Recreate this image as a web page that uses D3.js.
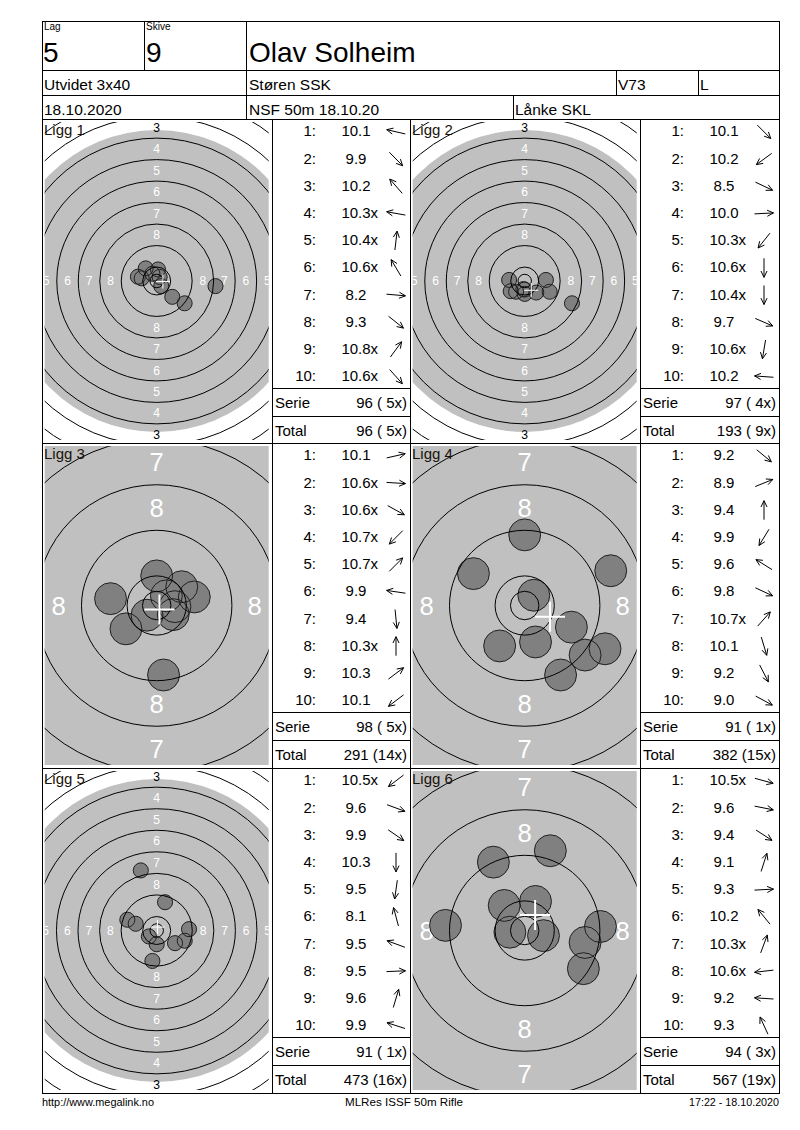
<!DOCTYPE html>
<html>
<head>
<meta charset="utf-8">
<script src="https://cdn.jsdelivr.net/npm/d3@7"></script>
<style>
body { margin: 0; background: #fff; }
svg { display: block; font-family: "Liberation Sans", Arial, sans-serif; }
</style>
</head>
<body>
<svg id="card" width="800" height="1130"></svg>
<script>
// header texts
var lagNr = "5", skiveNr = "9", shooter = "Olav Solheim";
var klasse = "Utvidet 3x40", klubb = "Støren SSK", alder = "V73", hand = "L";
var dato = "18.10.2020", stevne = "NSF 50m 18.10.20", laget = "Lånke SKL";
var footerTexts = ["http://www.megalink.no", "MLRes ISSF 50m Rifle", "17:22 - 18.10.2020"];

var liggNames = ["Ligg 1", "Ligg 2", "Ligg 3", "Ligg 4", "Ligg 5", "Ligg 6"];
var liggZoom = [false, false, true, true, false, true];

// shot values as printed
var ligg1Scores = ["10.1", "9.9", "10.2", "10.3x", "10.4x", "10.6x", "8.2", "9.3", "10.8x", "10.6x"];
var ligg2Scores = ["10.1", "10.2", "8.5", "10.0", "10.3x", "10.6x", "10.4x", "9.7", "10.6x", "10.2"];
var ligg3Scores = ["10.1", "10.6x", "10.6x", "10.7x", "10.7x", "9.9", "9.4", "10.3x", "10.3", "10.1"];
var ligg4Scores = ["9.2", "8.9", "9.4", "9.9", "9.6", "9.8", "10.7x", "10.1", "9.2", "9.0"];
var ligg5Scores = ["10.5x", "9.6", "9.9", "10.3", "9.5", "8.1", "9.5", "9.5", "9.6", "9.9"];
var ligg6Scores = ["10.5x", "9.6", "9.4", "9.1", "9.3", "10.2", "10.3x", "10.6x", "9.2", "9.3"];

// shot centres in mm from target centre (x right, y down)
var ligg1Shots = [[-7.0, -1.6], [5.8, 5.9], [-4.1, -4.7], [-5.6, -1.0], [0.5, -4.3], [-1.6, -2.7], [21.9, 1.9], [10.4, 8.3], [1.1, -1.5], [1.7, 1.9]];
var ligg2Shots = [[4.3, 4.3], [-5.2, 3.8], [17.6, 8.3], [7.9, -0.4], [-3.2, 4.0], [0.0, 3.2], [0.0, 4.8], [9.3, 4.0], [-0.5, 3.0], [-5.8, -0.4]];
var ligg3Shots = [[6.6, -1.5], [3.2, 0.2], [2.9, 1.6], [-1.7, 1.7], [1.7, -1.7], [-8.1, -1.2], [1.2, 12.2], [0.0, -5.2], [4.4, -3.3], [-5.4, 4.1]];
var ligg4Shots = [[10.6, 8.7], [15.1, -6.1], [0.0, -12.4], [-4.4, 7.1], [-9.0, -5.6], [8.2, 3.8], [1.6, -1.8], [1.9, 6.4], [6.3, 12.2], [14.1, 7.6]];
var ligg5Shots = [[-2.9, 2.2], [10.4, 3.8], [6.8, 4.7], [0.0, 5.1], [-1.6, 11.3], [-5.9, -22.3], [-10.9, -4.0], [12.0, -0.5], [3.1, -10.5], [-7.8, -2.5]];
var ligg6Shots = [[3.3, 0.9], [10.6, 2.1], [10.3, 6.7], [4.5, -14.0], [13.3, -0.7], [-3.6, -4.4], [1.9, -5.1], [-2.6, 0.3], [-13.9, -0.9], [-5.5, -12.0]];

var allScores = [ligg1Scores, ligg2Scores, ligg3Scores, ligg4Scores, ligg5Scores, ligg6Scores];
var allShots = [ligg1Shots, ligg2Shots, ligg3Shots, ligg4Shots, ligg5Shots, ligg6Shots];

// ISSF 50m rifle target, radii in mm (ring 1 .. ring 10), inner ten, black
var ringRadius = [77.2, 69.2, 61.2, 53.2, 45.2, 37.2, 29.2, 21.2, 13.2, 5.2];
var innerTen = 2.5, blackRadius = 56.2, shotRadius = 2.8;

var svg = d3.select("#card");
var colX = [42, 272, 410, 640, 779];
var rowY = [119, 443, 768, 1093];

svg.append("rect").attr("width", 800).attr("height", 1130).attr("fill", "#fff");

var targets = svg.append("g");
var lines = svg.append("g").attr("stroke", "#000").attr("stroke-width", 1)
    .attr("shape-rendering", "crispEdges");
var texts = svg.append("g").attr("fill", "#000");

function hline(x1, x2, y) {
    lines.append("line").attr("x1", x1).attr("x2", x2).attr("y1", y + 0.5).attr("y2", y + 0.5);
}
function vline(x, y1, y2) {
    lines.append("line").attr("x1", x + 0.5).attr("x2", x + 0.5).attr("y1", y1).attr("y2", y2);
}
function label(x, y, str, size, anchor) {
    return texts.append("text").attr("x", x).attr("y", y).attr("font-size", size)
        .attr("text-anchor", anchor || "start").text(str);
}

// ---- header ----
hline(42, 780, 21); hline(42, 780, 70); hline(42, 780, 95); hline(42, 780, 119);
vline(42, 21, 119); vline(779, 21, 120);
vline(144, 21, 70); vline(246, 21, 119);
vline(616, 70, 95); vline(698, 70, 95); vline(513, 95, 119);

label(44, 30, "Lag", 10);
label(146, 30, "Skive", 10);
label(43, 62, lagNr, 28);
label(146, 62, skiveNr, 28);
label(249, 62, shooter, 28);
label(44, 90, klasse, 15.5);
label(249, 90, klubb, 15.5);
label(618, 90, alder, 15.5);
label(700, 90, hand, 15.5);
label(44, 115, dato, 15.5);
label(249, 115, stevne, 15.5);
label(515, 115, laget, 15.5);

// ---- grid ----
colX.forEach(function (x) { vline(x, 119, 1094); });
rowY.forEach(function (y) { hline(42, 780, y); });

// ---- targets ----
function drawTarget(i) {
    var col = i % 2, row = Math.floor(i / 2);
    var left = colX[col * 2], right = colX[col * 2 + 1];
    var top = rowY[row], bottom = rowY[row + 1];
    var x0 = left + 2.7, x1 = right - 3.3, y0 = top + 3, y1 = bottom - 3;
    var halfH = liggZoom[i] ? 28.0 : 59.2;
    var k = (y1 - y0) / (2 * halfH);
    var halfW = (x1 - x0) / 2 / k;
    var x = d3.scaleLinear().domain([-halfW, halfW]).range([x0, x1]);
    var y = d3.scaleLinear().domain([-halfH, halfH]).range([y0, y1]);
    var shots = allShots[i];

    var clipId = "clip" + i;
    svg.append("clipPath").attr("id", clipId).append("rect")
        .attr("x", x0).attr("y", y0).attr("width", x1 - x0).attr("height", y1 - y0);
    var g = targets.append("g").attr("clip-path", "url(#" + clipId + ")");

    g.append("circle").attr("cx", x(0)).attr("cy", y(0)).attr("r", blackRadius * k)
        .attr("fill", "#c0c0c0");

    // ring numbers 1..8 in the middle of each band, only those inside the view
    var labels = [];
    d3.range(0, 8).forEach(function (n) {
        var m = (ringRadius[n] + ringRadius[n + 1]) / 2;
        [[0, -m], [0, m], [-m, 0], [m, 0]].forEach(function (p) {
            var px = x(p[0]), py = y(p[1]);
            if (px > x0 && px < x1 && py > y0 && py < y1) {
                labels.push({ n: n + 1, x: p[0], y: p[1], white: m < blackRadius });
            }
        });
    });
    g.append("g").selectAll("text").data(labels).enter().append("text")
        .attr("x", function (d) { return x(d.x); })
        .attr("y", function (d) { return y(d.y); })
        .attr("dy", "0.36em")
        .attr("text-anchor", "middle")
        .attr("font-size", 4.5 * k)
        .attr("fill", function (d) { return d.white ? "#fff" : "#000"; })
        .text(function (d) { return d.n; });

    // shot holes: fills first, outlines on top
    g.append("g").selectAll("circle").data(shots).enter().append("circle")
        .attr("cx", function (d) { return x(d[0]); })
        .attr("cy", function (d) { return y(d[1]); })
        .attr("r", shotRadius * k)
        .attr("fill", "#808080");
    g.append("g").selectAll("circle").data(shots).enter().append("circle")
        .attr("cx", function (d) { return x(d[0]); })
        .attr("cy", function (d) { return y(d[1]); })
        .attr("r", shotRadius * k)
        .attr("fill", "none").attr("stroke", "#202020").attr("stroke-width", 1);

    g.append("g").selectAll("circle").data(ringRadius.concat([innerTen])).enter().append("circle")
        .attr("cx", x(0)).attr("cy", y(0))
        .attr("r", function (d) { return d * k; })
        .attr("fill", "none").attr("stroke", "#000").attr("stroke-width", 1);

    // mean point of impact
    var mx = d3.mean(shots, function (d) { return d[0]; });
    var my = d3.mean(shots, function (d) { return d[1]; });
    var c = 2.64, sw = Math.max(1, 0.35 * k);
    g.append("line").attr("x1", x(mx - c)).attr("x2", x(mx + c)).attr("y1", y(my)).attr("y2", y(my))
        .attr("stroke", "#fff").attr("stroke-width", sw);
    g.append("line").attr("x1", x(mx)).attr("x2", x(mx)).attr("y1", y(my - c)).attr("y2", y(my + c))
        .attr("stroke", "#fff").attr("stroke-width", sw);

    g.append("text").attr("x", left + 2).attr("y", top + 16).attr("font-size", 15)
        .attr("fill", "#1a1208").text(liggNames[i]);
}

// ---- tables ----
var runningTotal = 0, runningX = 0;
function drawTable(i) {
    var col = i % 2, row = Math.floor(i / 2);
    var left = colX[col * 2 + 1], right = colX[col * 2 + 2];
    var top = rowY[row];
    var scores = allScores[i], shots = allShots[i];

    var serie = d3.sum(scores, function (s) { return Math.floor(parseFloat(s)); });
    var xs = scores.filter(function (s) { return s.indexOf("x") >= 0; }).length;
    runningTotal += serie; runningX += xs;
    function fmt(v, n) { return v + " (" + (n < 10 ? " " : "") + n + "x)"; }

    var rowStep = 27.2;
    scores.forEach(function (s, j) {
        var base = top + 17.3 + rowStep * j;
        label(left + 44, base, (j + 1) + ":", 15, "end");
        var num = s.replace("x", "");
        var t = label(left + 84, base, num, 15, "middle");
        if (s.indexOf("x") >= 0) {
            var w = t.node().getComputedTextLength();
            label(left + 84 + w / 2, base, "x", 15);
        }
        // arrow pointing towards the shot
        var a = Math.atan2(shots[j][1], shots[j][0]);
        var ax = left + 124, ay = base - 4.5, L = 9.5, hb = 7, ha = 0.45;
        var hx = ax + L * Math.cos(a), hy = ay + L * Math.sin(a);
        var tx = ax - L * Math.cos(a), ty = ay - L * Math.sin(a);
        var p = d3.path();
        p.moveTo(tx, ty); p.lineTo(hx, hy);
        p.moveTo(hx - hb * Math.cos(a - ha), hy - hb * Math.sin(a - ha));
        p.lineTo(hx, hy);
        p.lineTo(hx - hb * Math.cos(a + ha), hy - hb * Math.sin(a + ha));
        texts.append("path").attr("d", p.toString()).attr("fill", "none")
            .attr("stroke", "#000").attr("stroke-width", 1);
    });

    hline(left, right, top + 269);
    hline(left, right, top + 297);
    label(left + 3, top + 289, "Serie", 15);
    label(right - 3, top + 289, fmt(serie, xs), 15, "end");
    label(left + 3, top + 316.7, "Total", 15);
    label(right - 3, top + 316.7, fmt(runningTotal, runningX), 15, "end");
}

d3.range(6).forEach(function (i) { drawTarget(i); drawTable(i); });

// ---- footer ----
var foot = svg.append("g").attr("font-size", 11).attr("fill", "#000")
    .attr("font-family", "'Liberation Sans Narrow', 'Liberation Sans', Arial, sans-serif");
foot.append("text").attr("x", 42).attr("y", 1106).attr("textLength", 112)
    .attr("lengthAdjust", "spacingAndGlyphs").text(footerTexts[0]);
foot.append("text").attr("x", 345).attr("y", 1106).attr("textLength", 118)
    .attr("lengthAdjust", "spacingAndGlyphs").text(footerTexts[1]);
foot.append("text").attr("x", 689).attr("y", 1106).attr("textLength", 90)
    .attr("lengthAdjust", "spacingAndGlyphs").text(footerTexts[2]);
</script>
</body>
</html>
